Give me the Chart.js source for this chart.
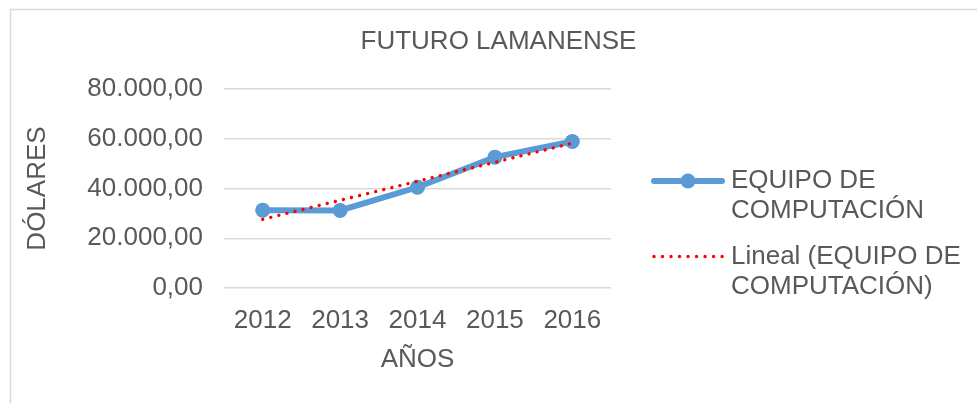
<!DOCTYPE html>
<html>
<head>
<meta charset="utf-8">
<script src="https://cdn.jsdelivr.net/npm/chart.js@4.4.1/dist/chart.umd.min.js"></script>
<style>
  html, body { margin: 0; padding: 0; background: #ffffff; }
  #wrap { position: relative; width: 977px; height: 403px; }
</style>
</head>
<body>
<div id="wrap"><canvas id="c" width="977" height="403"></canvas></div>
<script>
const chartTitle = 'FUTURO LAMANENSE';
const categories = ['2012', '2013', '2014', '2015', '2016'];
const seriesName = 'EQUIPO DE COMPUTACIÓN';
const seriesValues = [31300, 31200, 40500, 52600, 58900];
const trendName = 'Lineal (EQUIPO DE COMPUTACIÓN)';
const trendValues = [27600, 35250, 42900, 50550, 58200];
const yTicks = [0, 20000, 40000, 60000, 80000];
const yTitle = 'DÓLARES';
const xTitle = 'AÑOS';
const legendSeriesLines = ['EQUIPO DE', 'COMPUTACIÓN'];
const legendTrendLines = ['Lineal (EQUIPO DE', 'COMPUTACIÓN)'];

const FONT = '"Liberation Sans", Arial, sans-serif';
const TXT = '#595959';
const BLUE = '#5B9BD5';
const RED = '#FF0000';
const GRID = '#D9D9D9';

function fmt(v) {
  const s = Math.round(v).toString().replace(/\B(?=(\d{3})+(?!\d))/g, '.');
  return s + ',00';
}

const decorPlugin = {
  id: 'decor',
  beforeDraw(chart) {
    const ctx = chart.ctx;
    ctx.save();
    ctx.strokeStyle = GRID;
    ctx.lineWidth = 1.5;
    ctx.strokeRect(10.5, 9.5, 1100, 1100);
    ctx.restore();
  },
  afterDraw(chart) {
    const ctx = chart.ctx;
    ctx.save();
    ctx.font = '26px ' + FONT;
    ctx.fillStyle = TXT;
    ctx.textBaseline = 'middle';
    ctx.textAlign = 'center';
    ctx.fillText(chartTitle, 498.5, 42);

    // legend
    ctx.textAlign = 'left';
    const ds0 = chart.data.datasets[0];
    const ds1 = chart.data.datasets[1];
    ctx.strokeStyle = ds0.borderColor;
    ctx.lineWidth = 6;
    ctx.lineCap = 'round';
    ctx.beginPath();
    ctx.moveTo(654, 181);
    ctx.lineTo(722, 181);
    ctx.stroke();
    ctx.fillStyle = ds0.borderColor;
    ctx.beginPath();
    ctx.arc(688, 181, 7.5, 0, Math.PI * 2);
    ctx.fill();

    ctx.strokeStyle = ds1.borderColor;
    ctx.lineWidth = 3.4;
    ctx.setLineDash([0.01, 8.5]);
    ctx.beginPath();
    ctx.moveTo(654, 256.5);
    ctx.lineTo(723, 256.5);
    ctx.stroke();
    ctx.setLineDash([]);

    ctx.fillStyle = TXT;
    ctx.fillText(legendSeriesLines[0], 731, 181);
    ctx.fillText(legendSeriesLines[1], 731, 211);
    ctx.fillText(legendTrendLines[0], 731, 257);
    ctx.fillText(legendTrendLines[1], 731, 287);
    ctx.restore();
  }
};

new Chart(document.getElementById('c'), {
  type: 'line',
  data: {
    labels: categories,
    datasets: [
      {
        label: seriesName,
        data: seriesValues,
        borderColor: BLUE,
        backgroundColor: BLUE,
        borderWidth: 6,
        pointRadius: 7.5,
        pointHoverRadius: 7.5,
        pointBackgroundColor: BLUE,
        pointBorderWidth: 0,
        tension: 0,
        order: 2
      },
      {
        label: trendName,
        data: trendValues,
        borderColor: RED,
        borderWidth: 3.4,
        borderDash: [0.01, 8.3],
        borderCapStyle: 'round',
        pointRadius: 0,
        tension: 0,
        order: 1
      }
    ]
  },
  options: {
    responsive: false,
    animation: false,
    events: [],
    layout: { padding: { left: 10, top: 89, right: 366, bottom: 0 } },
    plugins: {
      legend: { display: false },
      title: { display: false },
      tooltip: { enabled: false }
    },
    scales: {
      x: {
        type: 'category',
        offset: true,
        grid: { display: false, drawTicks: false },
        border: { display: false },
        ticks: { font: { family: FONT, size: 26 }, color: TXT, padding: 17 },
        title: { display: true, text: xTitle, font: { family: FONT, size: 26 }, color: TXT, padding: { top: 0, bottom: 28 } },
        afterFit(s) { s.height = 115; }
      },
      y: {
        min: 0,
        max: 80000,
        afterBuildTicks(s) { s.ticks = yTicks.map(v => ({ value: v })); },
        grid: { color: GRID, lineWidth: 1.5, drawTicks: false },
        border: { display: false },
        ticks: { font: { family: FONT, size: 26 }, color: TXT, padding: 21, callback: v => fmt(v) },
        title: { display: true, text: yTitle, font: { family: FONT, size: 26 }, color: TXT, padding: { top: 12, bottom: 0 } },
        afterFit(s) { s.width = 214; }
      }
    }
  },
  plugins: [decorPlugin]
});
</script>
</body>
</html>
